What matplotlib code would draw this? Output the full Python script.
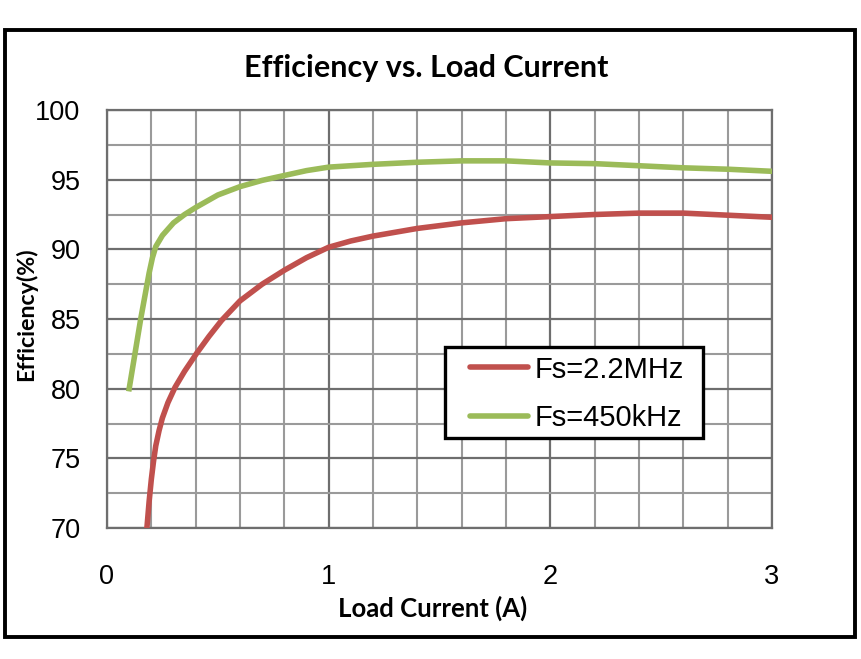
import matplotlib
matplotlib.use('Agg')
import matplotlib.pyplot as plt
from matplotlib.patches import Rectangle
from matplotlib.ticker import MultipleLocator

# Fs = 2.2 MHz
cur_22m = [0.18, 0.19, 0.2, 0.21, 0.22, 0.235, 0.25, 0.275, 0.307, 0.35,
           0.405, 0.46, 0.517, 0.6, 0.7, 0.8, 0.9, 1.0, 1.1,
           1.2, 1.4, 1.6, 1.8, 2.0, 2.2, 2.4, 2.6, 2.8, 3.0]
eff_22m = [70, 71.9, 73.5, 74.8, 75.9, 77.0, 77.9, 79.0, 80.1, 81.25,
           82.55, 83.75, 84.9, 86.3, 87.5, 88.5, 89.4, 90.15, 90.6,
           90.95, 91.5, 91.9, 92.2, 92.35, 92.5, 92.6, 92.6, 92.45, 92.3]

# Fs = 450 kHz
cur_450k = [0.1, 0.126, 0.152, 0.175, 0.19, 0.205, 0.22, 0.25, 0.3, 0.35,
            0.4, 0.5, 0.6, 0.7, 0.8, 0.9, 1.0,
            1.2, 1.4, 1.6, 1.8, 2.0, 2.2, 2.4, 2.6, 2.8, 3.0]
eff_450k = [80, 82.5, 85, 87.0, 88.3, 89.4, 90.2, 91.0, 91.9, 92.5,
            93.0, 93.9, 94.5, 94.95, 95.3, 95.65, 95.9,
            96.1, 96.25, 96.35, 96.35, 96.2, 96.15, 96.0, 95.85, 95.75, 95.6]

labels = ['Fs=2.2MHz', 'Fs=450kHz']
x_ticks = [0, 1, 2, 3]
y_ticks = [70, 75, 80, 85, 90, 95, 100]

W, H = 861, 659
fig = plt.figure(figsize=(W / 100, H / 100), dpi=100)
ax = fig.add_axes([107 / W, 1 - 528 / H, 665 / W, 418 / H])

# outer frame
fig.patches.append(Rectangle((5 / W, 1 - 637 / H), 850 / W, 607 / H,
                             transform=fig.transFigure, fill=False,
                             edgecolor='black', linewidth=2.8))

ax.xaxis.set_minor_locator(MultipleLocator(0.2))
ax.yaxis.set_minor_locator(MultipleLocator(2.5))
ax.set_xticks(x_ticks)
ax.set_yticks(y_ticks)
ax.set_xlim(0, 3)
ax.set_ylim(70, 100)
ax.grid(which='minor', color='#9a9a9a', linewidth=1.5)
ax.grid(which='major', color='#6e6e6e', linewidth=1.6)
ax.set_axisbelow(True)
for s in ax.spines.values():
    s.set_color('#6e6e6e')
    s.set_linewidth(1.6)
ax.tick_params(which='both', length=0)
ax.tick_params(axis='y', pad=19, labelsize=19.5)
ax.tick_params(axis='x', pad=26, labelsize=19.5)
for lab in ax.get_xticklabels() + ax.get_yticklabels():
    lab.set_fontfamily('Liberation Sans')

ax.plot(cur_22m, eff_22m, color='#c0504d', linewidth=4.0,
        solid_joinstyle='round', label=labels[0], zorder=3)
ax.plot(cur_450k, eff_450k, color='#9bbb59', linewidth=4.0,
        solid_joinstyle='round', label=labels[1], zorder=3)

# legend box
leg_box = Rectangle((445 / W, 1 - 438 / H), 258 / W, 91 / H,
                    transform=fig.transFigure, facecolor='white',
                    edgecolor='black', linewidth=2.4, zorder=4,
                    clip_on=False)
ax.add_patch(leg_box)
leg = ax.legend(loc='center left', bbox_to_anchor=(470 / W, 1 - 394 / H),
                bbox_transform=fig.transFigure, borderaxespad=0,
                frameon=False, prop={'family': 'Liberation Sans', 'size': 21},
                handlelength=2.0, handletextpad=0.2, labelspacing=0.72,
                borderpad=0)
leg.set_zorder(5)
for line in leg.get_lines():
    line.set_linewidth(4.0)
    line.set_solid_capstyle('round')

fig.text(426 / W, 1 - 68 / H, 'Efficiency vs. Load Current', ha='center',
         va='center', fontsize=22, fontweight='bold', family='Lato')
fig.text(433 / W, 1 - 608 / H, 'Load Current (A)', ha='center',
         va='center', fontsize=18.5, fontweight='bold', family='Lato')
fig.text(26 / W, 1 - 314 / H, 'Efficiency(%)', ha='center', va='center',
         rotation=90, fontsize=16.7, fontweight='bold', family='Lato')

fig.savefig('out.png', dpi=100)
